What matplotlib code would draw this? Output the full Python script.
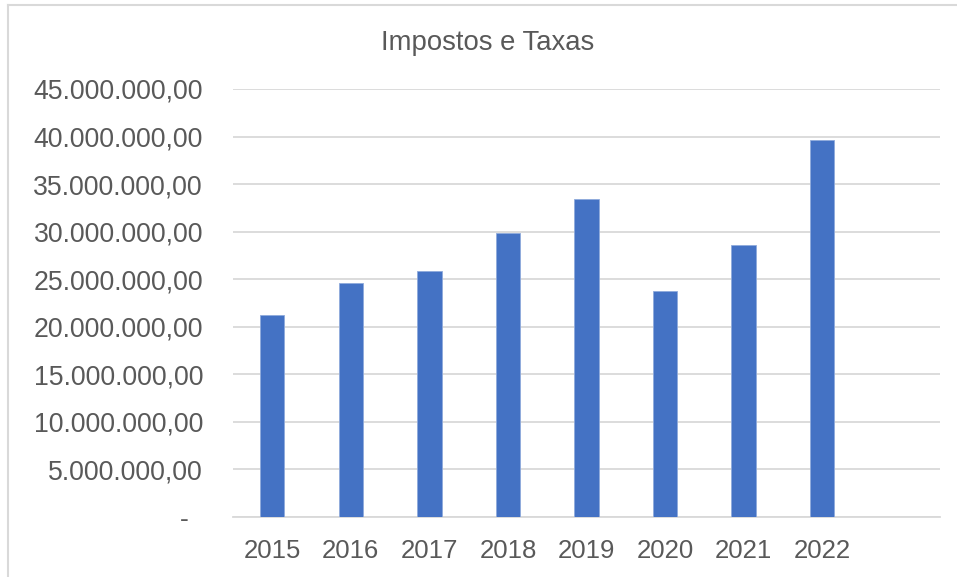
import matplotlib.pyplot as plt
from matplotlib.lines import Line2D
from matplotlib.ticker import FuncFormatter

years = ['2015', '2016', '2017', '2018', '2019', '2020', '2021', '2022']
valores = [21240000, 24630000, 25900000, 29830000, 33470000,
           23800000, 28600000, 39640000]

plt.rcParams['font.family'] = ['Liberation Sans', 'DejaVu Sans']

text_color = '#595959'
grid_color = '#D9D9D9'


def fmt_brl(v, pos):
    # Excel accounting-style format: 45.000.000,00, zero shown as "-"
    if v == 0:
        return '-  '
    s = f'{v:,.2f}'
    return s.replace(',', 'X').replace('.', ',').replace('X', '.')


fig = plt.figure(figsize=(9.57, 5.77), dpi=100)
ax = fig.add_axes([0.2435, 0.104, 0.9822 - 0.2435, 0.8458 - 0.104])

x = range(len(years))
ax.bar(x, valores, width=0.31, color='#4472C4', edgecolor='#8FAADC',
       linewidth=0.6, zorder=3)

ax.set_ylim(0, 45000000)
ax.set_yticks(range(0, 45000001, 5000000))
ax.yaxis.set_major_formatter(FuncFormatter(fmt_brl))
ax.set_xlim(-0.5, len(years) + 0.5)
ax.set_xticks(list(x))
ax.set_xticklabels(years)

ax.grid(axis='y', color=grid_color, linewidth=1.3, zorder=0)
for side in ['top', 'left', 'right']:
    ax.spines[side].set_visible(False)
ax.spines['bottom'].set_color(grid_color)
ax.spines['bottom'].set_linewidth(1.3)

ax.tick_params(axis='y', length=0, pad=21.6, labelsize=19.2, labelcolor=text_color)
ax.tick_params(axis='x', length=0, pad=15.8, labelsize=18.5, labelcolor=text_color)

fig.text(0.51, 0.925, 'Impostos e Taxas', ha='center', va='center',
         fontsize=19.8, color=text_color)

# light chart-area border (top and left edges) like the Excel export
W, H = 957, 577
fig.lines.append(Line2D([8 / W, 1], [1 - 5 / H, 1 - 5 / H], transform=fig.transFigure,
                        color=grid_color, linewidth=1.5))
fig.lines.append(Line2D([8 / W, 8 / W], [0, 1 - 5 / H], transform=fig.transFigure,
                        color=grid_color, linewidth=1.5))

fig.savefig('out.png', dpi=100)
